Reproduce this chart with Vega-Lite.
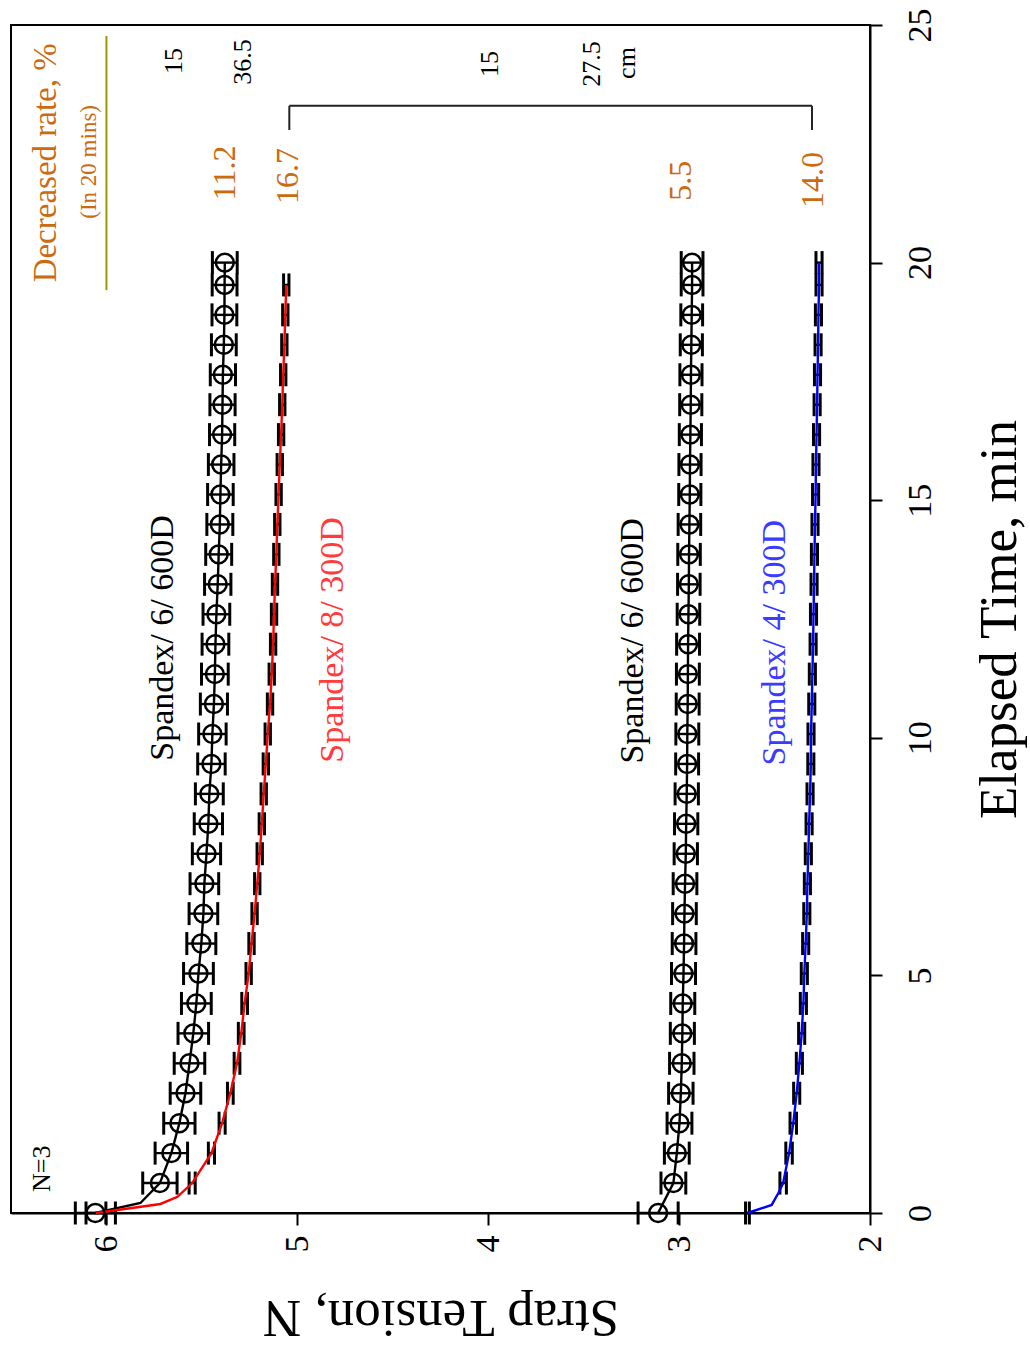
{
  "$schema": "https://vega.github.io/schema/vega-lite/v6.json",
  "width": 859,
  "height": 1188,
  "autosize": {"type": "none"},
  "padding": {"left": 11, "top": 25, "right": 160, "bottom": 135},
  "background": "white",
  "config": {"font": "Liberation Serif", "view": {"stroke": "black", "strokeWidth": 2}},
  "datasets": {
    "meas": [
      {"series": "Spandex 6/600D (1)", "t": 0, "v": 6.058, "err": 0.105},
      {"series": "Spandex 6/600D (1)", "t": 0.21, "v": 5.822},
      {"series": "Spandex 6/600D (1)", "t": 0.63, "v": 5.72, "err": 0.09},
      {"series": "Spandex 6/600D (1)", "t": 1.26, "v": 5.66, "err": 0.085},
      {"series": "Spandex 6/600D (1)", "t": 1.89, "v": 5.618, "err": 0.082},
      {"series": "Spandex 6/600D (1)", "t": 2.52, "v": 5.586, "err": 0.08},
      {"series": "Spandex 6/600D (1)", "t": 3.15, "v": 5.565, "err": 0.08},
      {"series": "Spandex 6/600D (1)", "t": 3.78, "v": 5.545, "err": 0.08},
      {"series": "Spandex 6/600D (1)", "t": 4.41, "v": 5.529, "err": 0.078},
      {"series": "Spandex 6/600D (1)", "t": 5.04, "v": 5.518, "err": 0.078},
      {"series": "Spandex 6/600D (1)", "t": 5.67, "v": 5.503, "err": 0.076},
      {"series": "Spandex 6/600D (1)", "t": 6.3, "v": 5.492, "err": 0.075},
      {"series": "Spandex 6/600D (1)", "t": 6.93, "v": 5.487, "err": 0.075},
      {"series": "Spandex 6/600D (1)", "t": 7.56, "v": 5.476, "err": 0.074},
      {"series": "Spandex 6/600D (1)", "t": 8.19, "v": 5.466, "err": 0.074},
      {"series": "Spandex 6/600D (1)", "t": 8.82, "v": 5.461, "err": 0.073},
      {"series": "Spandex 6/600D (1)", "t": 9.45, "v": 5.45, "err": 0.072},
      {"series": "Spandex 6/600D (1)", "t": 10.08, "v": 5.445, "err": 0.072},
      {"series": "Spandex 6/600D (1)", "t": 10.71, "v": 5.437, "err": 0.071},
      {"series": "Spandex 6/600D (1)", "t": 11.34, "v": 5.432, "err": 0.07},
      {"series": "Spandex 6/600D (1)", "t": 11.97, "v": 5.429, "err": 0.07},
      {"series": "Spandex 6/600D (1)", "t": 12.6, "v": 5.424, "err": 0.07},
      {"series": "Spandex 6/600D (1)", "t": 13.23, "v": 5.417, "err": 0.069},
      {"series": "Spandex 6/600D (1)", "t": 13.86, "v": 5.412, "err": 0.068},
      {"series": "Spandex 6/600D (1)", "t": 14.49, "v": 5.406, "err": 0.068},
      {"series": "Spandex 6/600D (1)", "t": 15.12, "v": 5.403, "err": 0.067},
      {"series": "Spandex 6/600D (1)", "t": 15.75, "v": 5.399, "err": 0.067},
      {"series": "Spandex 6/600D (1)", "t": 16.38, "v": 5.394, "err": 0.066},
      {"series": "Spandex 6/600D (1)", "t": 17.01, "v": 5.392, "err": 0.066},
      {"series": "Spandex 6/600D (1)", "t": 17.64, "v": 5.39, "err": 0.066},
      {"series": "Spandex 6/600D (1)", "t": 18.27, "v": 5.385, "err": 0.065},
      {"series": "Spandex 6/600D (1)", "t": 18.9, "v": 5.382, "err": 0.065},
      {"series": "Spandex 6/600D (1)", "t": 19.53, "v": 5.381, "err": 0.065},
      {"series": "Spandex 6/600D (1)", "t": 20, "v": 5.38, "err": 0.065},

      {"series": "Spandex 8/300D", "t": 0, "v": 6.055, "err": 0.052},
      {"series": "Spandex 8/300D", "t": 0.19, "v": 5.717},
      {"series": "Spandex 8/300D", "t": 0.34, "v": 5.628},
      {"series": "Spandex 8/300D", "t": 0.63, "v": 5.551, "err": 0.016},
      {"series": "Spandex 8/300D", "t": 1.26, "v": 5.45, "err": 0.016},
      {"series": "Spandex 8/300D", "t": 1.89, "v": 5.394, "err": 0.016},
      {"series": "Spandex 8/300D", "t": 2.52, "v": 5.351, "err": 0.015},
      {"series": "Spandex 8/300D", "t": 3.15, "v": 5.316, "err": 0.015},
      {"series": "Spandex 8/300D", "t": 3.78, "v": 5.294, "err": 0.015},
      {"series": "Spandex 8/300D", "t": 4.41, "v": 5.276, "err": 0.015},
      {"series": "Spandex 8/300D", "t": 5.04, "v": 5.255, "err": 0.014},
      {"series": "Spandex 8/300D", "t": 5.67, "v": 5.24, "err": 0.014},
      {"series": "Spandex 8/300D", "t": 6.3, "v": 5.224, "err": 0.014},
      {"series": "Spandex 8/300D", "t": 6.93, "v": 5.21, "err": 0.014},
      {"series": "Spandex 8/300D", "t": 7.56, "v": 5.197, "err": 0.014},
      {"series": "Spandex 8/300D", "t": 8.19, "v": 5.186, "err": 0.014},
      {"series": "Spandex 8/300D", "t": 8.82, "v": 5.176, "err": 0.014},
      {"series": "Spandex 8/300D", "t": 9.45, "v": 5.165, "err": 0.014},
      {"series": "Spandex 8/300D", "t": 10.08, "v": 5.155, "err": 0.014},
      {"series": "Spandex 8/300D", "t": 10.71, "v": 5.143, "err": 0.014},
      {"series": "Spandex 8/300D", "t": 11.34, "v": 5.134, "err": 0.014},
      {"series": "Spandex 8/300D", "t": 11.97, "v": 5.127, "err": 0.014},
      {"series": "Spandex 8/300D", "t": 12.6, "v": 5.122, "err": 0.014},
      {"series": "Spandex 8/300D", "t": 13.23, "v": 5.117, "err": 0.014},
      {"series": "Spandex 8/300D", "t": 13.86, "v": 5.11, "err": 0.014},
      {"series": "Spandex 8/300D", "t": 14.49, "v": 5.105, "err": 0.014},
      {"series": "Spandex 8/300D", "t": 15.12, "v": 5.098, "err": 0.014},
      {"series": "Spandex 8/300D", "t": 15.75, "v": 5.092, "err": 0.014},
      {"series": "Spandex 8/300D", "t": 16.38, "v": 5.085, "err": 0.014},
      {"series": "Spandex 8/300D", "t": 17.01, "v": 5.079, "err": 0.014},
      {"series": "Spandex 8/300D", "t": 17.64, "v": 5.074, "err": 0.014},
      {"series": "Spandex 8/300D", "t": 18.27, "v": 5.068, "err": 0.014},
      {"series": "Spandex 8/300D", "t": 18.9, "v": 5.063, "err": 0.014},
      {"series": "Spandex 8/300D", "t": 19.53, "v": 5.058, "err": 0.014},

      {"series": "Spandex 6/600D (2)", "t": 0, "v": 3.11, "err": 0.105},
      {"series": "Spandex 6/600D (2)", "t": 0.63, "v": 3.03, "err": 0.065},
      {"series": "Spandex 6/600D (2)", "t": 1.26, "v": 3.012, "err": 0.065},
      {"series": "Spandex 6/600D (2)", "t": 1.89, "v": 2.998, "err": 0.065},
      {"series": "Spandex 6/600D (2)", "t": 2.52, "v": 2.991, "err": 0.064},
      {"series": "Spandex 6/600D (2)", "t": 3.15, "v": 2.986, "err": 0.064},
      {"series": "Spandex 6/600D (2)", "t": 3.78, "v": 2.983, "err": 0.063},
      {"series": "Spandex 6/600D (2)", "t": 4.41, "v": 2.981, "err": 0.063},
      {"series": "Spandex 6/600D (2)", "t": 5.04, "v": 2.977, "err": 0.063},
      {"series": "Spandex 6/600D (2)", "t": 5.67, "v": 2.974, "err": 0.062},
      {"series": "Spandex 6/600D (2)", "t": 6.3, "v": 2.972, "err": 0.062},
      {"series": "Spandex 6/600D (2)", "t": 6.93, "v": 2.969, "err": 0.062},
      {"series": "Spandex 6/600D (2)", "t": 7.56, "v": 2.965, "err": 0.061},
      {"series": "Spandex 6/600D (2)", "t": 8.19, "v": 2.963, "err": 0.061},
      {"series": "Spandex 6/600D (2)", "t": 8.82, "v": 2.96, "err": 0.061},
      {"series": "Spandex 6/600D (2)", "t": 9.45, "v": 2.958, "err": 0.06},
      {"series": "Spandex 6/600D (2)", "t": 10.08, "v": 2.957, "err": 0.06},
      {"series": "Spandex 6/600D (2)", "t": 10.71, "v": 2.955, "err": 0.06},
      {"series": "Spandex 6/600D (2)", "t": 11.34, "v": 2.954, "err": 0.06},
      {"series": "Spandex 6/600D (2)", "t": 11.97, "v": 2.953, "err": 0.06},
      {"series": "Spandex 6/600D (2)", "t": 12.6, "v": 2.951, "err": 0.059},
      {"series": "Spandex 6/600D (2)", "t": 13.23, "v": 2.949, "err": 0.059},
      {"series": "Spandex 6/600D (2)", "t": 13.86, "v": 2.948, "err": 0.059},
      {"series": "Spandex 6/600D (2)", "t": 14.49, "v": 2.946, "err": 0.059},
      {"series": "Spandex 6/600D (2)", "t": 15.12, "v": 2.944, "err": 0.058},
      {"series": "Spandex 6/600D (2)", "t": 15.75, "v": 2.943, "err": 0.058},
      {"series": "Spandex 6/600D (2)", "t": 16.38, "v": 2.941, "err": 0.058},
      {"series": "Spandex 6/600D (2)", "t": 17.01, "v": 2.939, "err": 0.058},
      {"series": "Spandex 6/600D (2)", "t": 17.64, "v": 2.938, "err": 0.058},
      {"series": "Spandex 6/600D (2)", "t": 18.27, "v": 2.936, "err": 0.058},
      {"series": "Spandex 6/600D (2)", "t": 18.9, "v": 2.934, "err": 0.057},
      {"series": "Spandex 6/600D (2)", "t": 19.53, "v": 2.932, "err": 0.057},
      {"series": "Spandex 6/600D (2)", "t": 20, "v": 2.932, "err": 0.057},

      {"series": "Spandex 4/300D", "t": 0, "v": 2.642, "err": 0.01},
      {"series": "Spandex 4/300D", "t": 0.17, "v": 2.515},
      {"series": "Spandex 4/300D", "t": 0.42, "v": 2.48},
      {"series": "Spandex 4/300D", "t": 0.63, "v": 2.455, "err": 0.017},
      {"series": "Spandex 4/300D", "t": 1.26, "v": 2.424, "err": 0.017},
      {"series": "Spandex 4/300D", "t": 1.89, "v": 2.402, "err": 0.017},
      {"series": "Spandex 4/300D", "t": 2.52, "v": 2.384, "err": 0.016},
      {"series": "Spandex 4/300D", "t": 3.15, "v": 2.37, "err": 0.016},
      {"series": "Spandex 4/300D", "t": 3.78, "v": 2.358, "err": 0.016},
      {"series": "Spandex 4/300D", "t": 4.41, "v": 2.349, "err": 0.016},
      {"series": "Spandex 4/300D", "t": 5.04, "v": 2.344, "err": 0.016},
      {"series": "Spandex 4/300D", "t": 5.67, "v": 2.337, "err": 0.016},
      {"series": "Spandex 4/300D", "t": 6.3, "v": 2.331, "err": 0.016},
      {"series": "Spandex 4/300D", "t": 6.93, "v": 2.328, "err": 0.016},
      {"series": "Spandex 4/300D", "t": 7.56, "v": 2.323, "err": 0.016},
      {"series": "Spandex 4/300D", "t": 8.19, "v": 2.319, "err": 0.016},
      {"series": "Spandex 4/300D", "t": 8.82, "v": 2.314, "err": 0.016},
      {"series": "Spandex 4/300D", "t": 9.45, "v": 2.31, "err": 0.016},
      {"series": "Spandex 4/300D", "t": 10.08, "v": 2.309, "err": 0.016},
      {"series": "Spandex 4/300D", "t": 10.71, "v": 2.305, "err": 0.016},
      {"series": "Spandex 4/300D", "t": 11.34, "v": 2.302, "err": 0.016},
      {"series": "Spandex 4/300D", "t": 11.97, "v": 2.298, "err": 0.016},
      {"series": "Spandex 4/300D", "t": 12.6, "v": 2.296, "err": 0.016},
      {"series": "Spandex 4/300D", "t": 13.23, "v": 2.293, "err": 0.016},
      {"series": "Spandex 4/300D", "t": 13.86, "v": 2.291, "err": 0.016},
      {"series": "Spandex 4/300D", "t": 14.49, "v": 2.288, "err": 0.016},
      {"series": "Spandex 4/300D", "t": 15.12, "v": 2.285, "err": 0.016},
      {"series": "Spandex 4/300D", "t": 15.75, "v": 2.283, "err": 0.016},
      {"series": "Spandex 4/300D", "t": 16.38, "v": 2.28, "err": 0.016},
      {"series": "Spandex 4/300D", "t": 17.01, "v": 2.277, "err": 0.016},
      {"series": "Spandex 4/300D", "t": 17.64, "v": 2.275, "err": 0.016},
      {"series": "Spandex 4/300D", "t": 18.27, "v": 2.272, "err": 0.016},
      {"series": "Spandex 4/300D", "t": 18.9, "v": 2.27, "err": 0.016},
      {"series": "Spandex 4/300D", "t": 19.53, "v": 2.267, "err": 0.016},
      {"series": "Spandex 4/300D", "t": 20, "v": 2.267, "err": 0.016}
    ],
    "olive": [
      {"v": 6.0, "v2": 6.0, "t": 19.42, "t2": 24.77}
    ],
    "bracket": [
      {"v": 5.042, "v2": 2.304, "t": 23.3, "t2": 23.3},
      {"v": 5.042, "v2": 5.042, "t": 23.3, "t2": 22.79},
      {"v": 2.304, "v2": 2.304, "t": 23.3, "t2": 22.79}
    ],
    "labels": [
      {"text": "Decreased rate,  %", "v": 6.319, "t": 22.1, "role": "rate-head"},
      {"text": "(In 20 mins)", "v": 6.094, "t": 22.12, "role": "rate-sub"},
      {"text": "15", "v": 5.644, "t": 24.24, "role": "dim"},
      {"text": "36.5", "v": 5.283, "t": 24.22, "role": "dim"},
      {"text": "15", "v": 3.99, "t": 24.18, "role": "dim"},
      {"text": "27.5", "v": 3.455, "t": 24.18, "role": "dim"},
      {"text": "cm", "v": 3.272, "t": 24.2, "role": "dim"},
      {"text": "N=3", "v": 6.335, "t": 0.93, "role": "dim"},
      {"text": "11.2", "v": 5.377, "t": 21.89, "role": "rate"},
      {"text": "16.7", "v": 5.047, "t": 21.82, "role": "rate"},
      {"text": "5.5", "v": 2.99, "t": 21.72, "role": "rate"},
      {"text": "14.0", "v": 2.298, "t": 21.74, "role": "rate"},
      {"text": "Spandex/ 6/ 600D", "v": 5.702, "t": 12.1, "role": "name-black"},
      {"text": "Spandex/ 8/ 300D", "v": 4.812, "t": 12.06, "role": "name-red"},
      {"text": "Spandex/ 6/ 600D", "v": 3.241, "t": 12.04, "role": "name-black"},
      {"text": "Spandex/ 4/ 300D", "v": 2.497, "t": 12.0, "role": "name-blue"}
    ]
  },
  "encoding": {
    "x": {
      "field": "v", "type": "quantitative",
      "scale": {"domain": [2, 6.5], "reverse": true, "nice": false, "zero": false},
      "axis": {
        "orient": "bottom", "values": [2, 3, 4, 5, 6], "title": "Strap Tension, N",
        "titleAngle": 180, "titleBaseline": "alphabetic", "titleFontSize": 53, "titleFontWeight": "normal",
        "titlePadding": 48, "titleColor": "black",
        "labelAngle": 270, "labelAlign": "right", "labelBaseline": "middle", "labelFontSize": 34,
        "labelPadding": 10, "labelColor": "black", "labelFlush": false, "labelOverlap": false, "labelBound": false,
        "tickSize": 12, "tickWidth": 2, "tickColor": "black", "domainColor": "black", "domainWidth": 2, "grid": false
      }
    },
    "y": {
      "field": "t", "type": "quantitative",
      "scale": {"domain": [0, 25], "nice": false, "zero": false},
      "axis": {
        "orient": "right", "values": [0, 5, 10, 15, 20, 25], "title": "Elapsed Time, min",
        "titleAngle": 270, "titleBaseline": "top", "titleFontSize": 53, "titleFontWeight": "normal",
        "titlePadding": 36, "titleColor": "black",
        "labelAngle": 270, "labelAlign": "center", "labelBaseline": "top", "labelFontSize": 34,
        "labelPadding": 21, "labelColor": "black", "labelFlush": false, "labelOverlap": false, "labelBound": false,
        "tickSize": 12, "tickWidth": 2, "tickColor": "black", "domainColor": "black", "domainWidth": 2, "grid": false
      }
    }
  },
  "layer": [
    {
      "data": {"name": "meas"},
      "transform": [{"filter": "isValid(datum.err)"}],
      "mark": {"type": "errorbar", "color": "black", "rule": {"strokeWidth": 2.4, "opacity": 1}, "ticks": {"size": 23, "thickness": 3, "opacity": 1, "color": "black"}},
      "encoding": {"xError": {"field": "err"}}
    },
    {
      "data": {"name": "meas"},
      "mark": {"type": "line", "strokeWidth": 2.4},
      "encoding": {
        "color": {
          "field": "series", "type": "nominal", "legend": null,
          "scale": {
            "domain": ["Spandex 6/600D (1)", "Spandex 8/300D", "Spandex 6/600D (2)", "Spandex 4/300D"],
            "range": ["#000000", "#ff0000", "#000000", "#0000ff"]
          }
        },
        "order": {"field": "t", "type": "quantitative"}
      }
    },
    {
      "data": {"name": "meas"},
      "transform": [{"filter": "isValid(datum.err) && (datum.series == 'Spandex 6/600D (1)' || datum.series == 'Spandex 6/600D (2)')"}],
      "mark": {"type": "point", "shape": "circle", "filled": false, "size": 320, "strokeWidth": 2.5, "color": "black", "opacity": 1}
    },
    {
      "data": {"name": "olive"},
      "mark": {"type": "rule", "color": "#9a9a00", "strokeWidth": 2},
      "encoding": {"x2": {"field": "v2"}, "y2": {"field": "t2"}}
    },
    {
      "data": {"name": "bracket"},
      "mark": {"type": "rule", "color": "#222222", "strokeWidth": 2},
      "encoding": {"x2": {"field": "v2"}, "y2": {"field": "t2"}}
    },
    {
      "data": {"name": "labels"},
      "transform": [{"filter": "datum.role == 'rate-head'"}],
      "mark": {"type": "text", "angle": 270, "align": "center", "baseline": "middle", "fontSize": 33, "color": "#cc6a10"},
      "encoding": {"text": {"field": "text"}}
    },
    {
      "data": {"name": "labels"},
      "transform": [{"filter": "datum.role == 'rate-sub'"}],
      "mark": {"type": "text", "angle": 270, "align": "center", "baseline": "middle", "fontSize": 23, "color": "#cc6a10"},
      "encoding": {"text": {"field": "text"}}
    },
    {
      "data": {"name": "labels"},
      "transform": [{"filter": "datum.role == 'rate'"}],
      "mark": {"type": "text", "angle": 270, "align": "center", "baseline": "middle", "fontSize": 32, "color": "#cc6a10"},
      "encoding": {"text": {"field": "text"}}
    },
    {
      "data": {"name": "labels"},
      "transform": [{"filter": "datum.role == 'dim'"}],
      "mark": {"type": "text", "angle": 270, "align": "center", "baseline": "middle", "fontSize": 26, "color": "black"},
      "encoding": {"text": {"field": "text"}}
    },
    {
      "data": {"name": "labels"},
      "transform": [{"filter": "datum.role == 'name-black'"}],
      "mark": {"type": "text", "angle": 270, "align": "center", "baseline": "middle", "fontSize": 34, "color": "black"},
      "encoding": {"text": {"field": "text"}}
    },
    {
      "data": {"name": "labels"},
      "transform": [{"filter": "datum.role == 'name-red'"}],
      "mark": {"type": "text", "angle": 270, "align": "center", "baseline": "middle", "fontSize": 34, "color": "#ff3b3b"},
      "encoding": {"text": {"field": "text"}}
    },
    {
      "data": {"name": "labels"},
      "transform": [{"filter": "datum.role == 'name-blue'"}],
      "mark": {"type": "text", "angle": 270, "align": "center", "baseline": "middle", "fontSize": 34, "color": "#3b3bff"},
      "encoding": {"text": {"field": "text"}}
    }
  ]
}
